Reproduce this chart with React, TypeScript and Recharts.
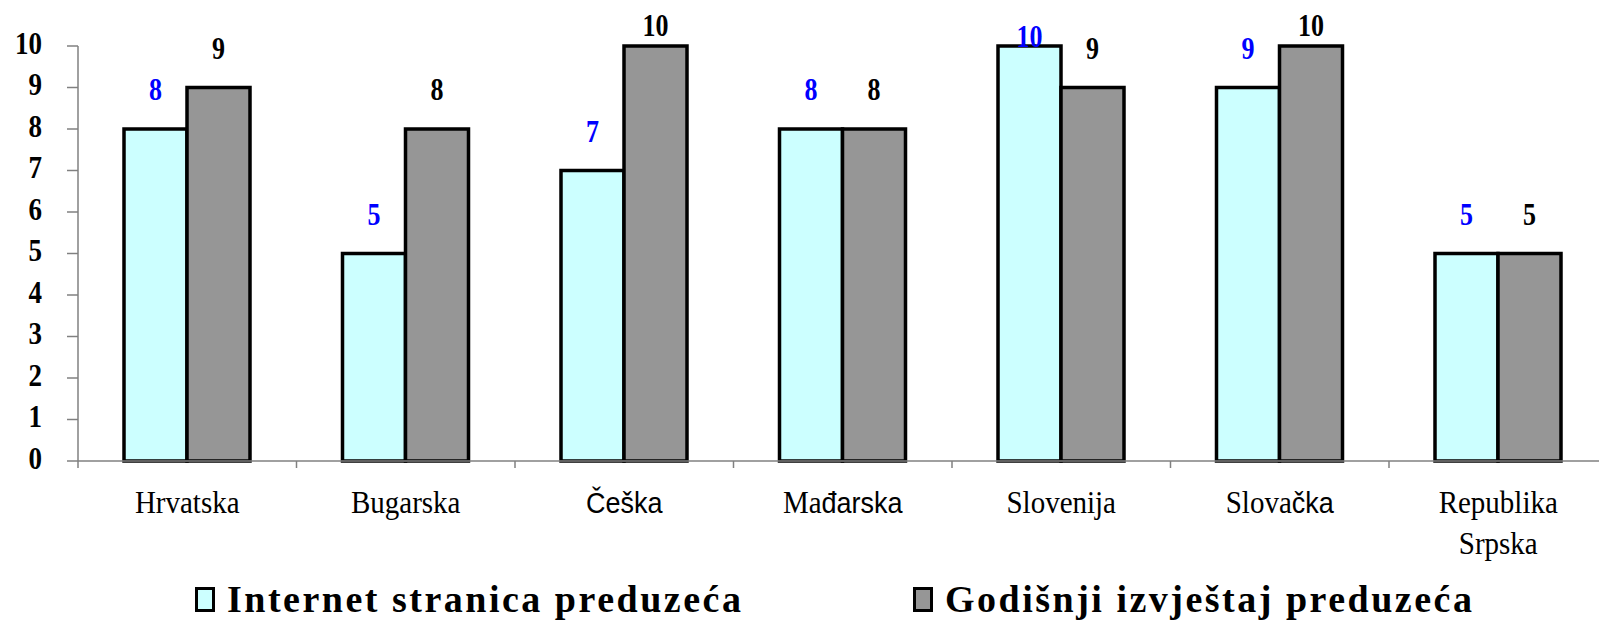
import React from 'react';
import { BarChart, Bar, XAxis, YAxis, Legend, LabelList } from 'recharts';

const categories = ['Hrvatska', 'Bugarska', 'Češka', 'Mađarska', 'Slovenija', 'Slovačka', 'Republika Srpska'];
const internetValues = [8, 5, 7, 8, 10, 9, 5];
const godisnjiValues = [9, 8, 10, 8, 9, 10, 5];
const yTicks = [0, 1, 2, 3, 4, 5, 6, 7, 8, 9, 10];
const seriesNames = ['Internet stranica preduzeća', 'Godišnji izvještaj preduzeća'];

const data = categories.map((name, i) => ({
  name,
  internet: internetValues[i],
  godisnji: godisnjiValues[i],
}));

const SERIF = '"Liberation Serif", "Times New Roman", serif';
const SANS = '"Liberation Sans", Arial, sans-serif';
const AXIS_GREY = '#808080';

const CHART_W = 1620;
const CHART_H = 623;
const Y_AXIS_W = 78;
const BAND = 218.5;
const HALF_BAND = BAND / 2;
const PLOT_W = BAND * categories.length;

// the original text is a bit stretched vertically, so numbers get a small scaleY
function StretchedText({ x, y, color, size, children }: any) {
  return (
    <text
      transform={`translate(${x},${y}) scale(1,1.18)`}
      textAnchor="middle"
      dominantBaseline="central"
      fontSize={size}
      fontWeight="bold"
      fontFamily={SERIF}
      fill={color}
    >
      {children}
    </text>
  );
}

function ValueTick(props: any) {
  const { x, y, payload } = props;
  return (
    <text
      transform={`translate(${x},${y - 3}) scale(1,1.18)`}
      textAnchor="end"
      dominantBaseline="central"
      fontSize={27}
      fontWeight="bold"
      fontFamily={SERIF}
      fill="#000"
    >
      {payload.value}
    </text>
  );
}

// labels that fall on non-latin1 letters switch to a sans face, like the source file did
function CategoryTick(props: any) {
  const { x, y, payload } = props;
  const lines = String(payload.value).split(' ');
  return (
    <g>
      <line x1={x - HALF_BAND} x2={x - HALF_BAND} y1={y} y2={y + 7} stroke={AXIS_GREY} strokeWidth={1.5} />
      <text
        transform={`translate(0,${y + 52}) scale(1,1.08)`}
        x={x}
        y={0}
        textAnchor="middle"
        fontSize={29}
        fontFamily={SERIF}
        fill="#000"
      >
        {lines.map((line, i) => {
          const k = line.search(/[^\x00-\x7F]/);
          return (
            <tspan key={i} x={x} dy={i === 0 ? 0 : 38}>
              {k < 0 ? line : line.slice(0, k)}
              {k >= 0 && (
                <tspan fontFamily={SANS} fontSize={27}>{line.slice(k)}</tspan>
              )}
            </tspan>
          );
        })}
      </text>
    </g>
  );
}

function makeValueLabel(color: string, minY: number) {
  return (props: any) => {
    const { x, y, width, value } = props;
    const cy = Math.max(y - 39, minY);
    return (
      <StretchedText x={x + width / 2} y={cy} color={color} size={26}>
        {value}
      </StretchedText>
    );
  };
}

const legendColors = ['#ccffff', '#969696'];
const legendLefts = [195, 913];

function ChartLegend() {
  return (
    <div style={{ position: 'relative', width: 1599, height: 44 }}>
      {seriesNames.map((name, i) => (
        <div
          key={name}
          style={{
            position: 'absolute',
            left: legendLefts[i],
            top: 0,
            display: 'flex',
            alignItems: 'center',
            height: 44,
            whiteSpace: 'nowrap',
          }}
        >
          <span
            style={{
              display: 'inline-block',
              width: 14,
              height: 19,
              background: legendColors[i],
              border: '3px solid #000',
              marginRight: 12,
            }}
          />
          <span
            style={{
              fontFamily: SERIF,
              fontWeight: 'bold',
              fontSize: 38,
              lineHeight: '44px',
              letterSpacing: 2.5,
              color: '#000',
            }}
          >
            {name}
          </span>
        </div>
      ))}
    </div>
  );
}

export default function App() {
  return (
    <div
      style={{
        position: 'absolute',
        left: 0,
        top: 0,
        width: 1599,
        height: 623,
        overflow: 'hidden',
        background: '#fff',
      }}
    >
      <BarChart
        width={CHART_W}
        height={CHART_H}
        data={data}
        margin={{ top: 46, right: CHART_W - Y_AXIS_W - PLOT_W, bottom: 62, left: 0 }}
        barCategoryGap={46}
        barGap={0}
      >
        <XAxis
          dataKey="name"
          height={100}
          interval={0}
          axisLine={{ stroke: AXIS_GREY, strokeWidth: 1.5 }}
          tickLine={false}
          tickSize={0}
          tickMargin={0}
          tick={<CategoryTick />}
        />
        <YAxis
          width={Y_AXIS_W}
          domain={[0, 10]}
          ticks={yTicks}
          interval={0}
          axisLine={{ stroke: AXIS_GREY, strokeWidth: 1.5 }}
          tickLine={{ stroke: AXIS_GREY, strokeWidth: 1.5 }}
          tickSize={11}
          tickMargin={25}
          tick={<ValueTick />}
        />
        <Legend
          layout="horizontal"
          verticalAlign="middle"
          align="center"
          wrapperStyle={{ top: 577, left: 0, width: 1599 }}
          content={<ChartLegend />}
        />
        <Bar
          dataKey="internet"
          name={seriesNames[0]}
          fill="#ccffff"
          stroke="#000"
          strokeWidth={3.5}
          isAnimationActive={false}
        >
          <LabelList dataKey="internet" content={makeValueLabel('#0000ff', 37)} />
        </Bar>
        <Bar
          dataKey="godisnji"
          name={seriesNames[1]}
          fill="#969696"
          stroke="#000"
          strokeWidth={3.5}
          isAnimationActive={false}
        >
          <LabelList dataKey="godisnji" content={makeValueLabel('#000', 26)} />
        </Bar>
      </BarChart>
    </div>
  );
}
